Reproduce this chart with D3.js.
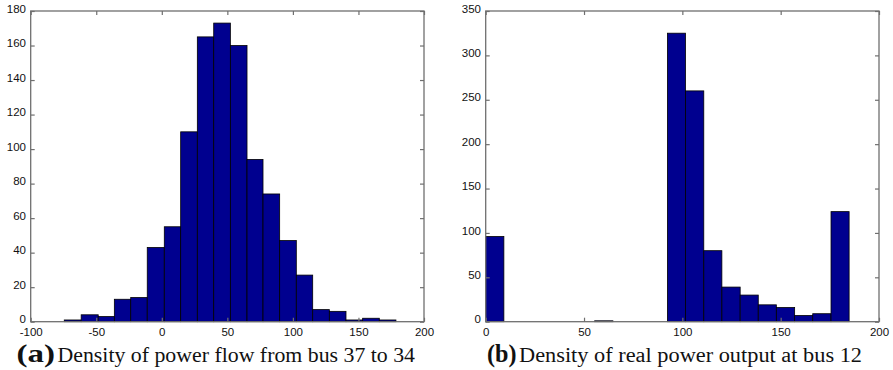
<!DOCTYPE html>
<html>
<head>
<meta charset="utf-8">
<script src="https://cdn.jsdelivr.net/npm/d3@7/dist/d3.min.js"></script>
<style>
  html, body { margin: 0; padding: 0; background: #fff; }
  svg { display: block; }
  .tick text { font-family: "Liberation Sans", Arial, sans-serif; font-size: 11.5px; fill: #111; }
</style>
</head>
<body>
<svg id="chart" width="893" height="370"></svg>
<script>
// (a) Power flow from bus 37 to 34: histogram bin edges and counts
const flowEdges = [-74.4, -61.5, -48.5, -36.2, -23.7, -11.1, 1.9, 14.4, 27.1, 39.6,
                   52.3, 65.0, 77.2, 89.9, 102.6, 115.1, 127.8, 140.5, 153.2, 165.9, 178.6];
const flowCounts = [1, 4, 3, 13, 14, 43, 55, 110, 165, 173,
                    160, 94, 74, 47, 27, 7, 6, 1, 2, 1];
const flowXTicks = [-100, -50, 0, 50, 100, 150, 200];
const flowYTicks = [0, 20, 40, 60, 80, 100, 120, 140, 160, 180];

// (b) Real power output at bus 12: histogram bin edges and counts
const outputEdges = [0, 9.24, 18.5, 27.7, 37.0, 46.2, 55.4, 64.7, 73.9, 83.2,
                     92.4, 101.6, 110.9, 120.1, 129.4, 138.6, 147.8, 157.1, 166.3, 175.6, 184.8];
const outputCounts = [96, 0, 0, 0, 0, 0, 1, 0, 0, 0,
                      325, 260, 80, 39, 30, 19, 16, 7, 9, 124];
const outputXTicks = [0, 50, 100, 150, 200];
const outputYTicks = [0, 50, 100, 150, 200, 250, 300, 350];

const captions = [
  { tag: "(a)", text: "Density of power flow from bus 37 to 34" },
  { tag: "(b)", text: "Density of real power output at bus 12" }
];

const svg = d3.select("#chart");
const AXIS_COLOR = "#6f6f6f";
const BAR_FILL = "#00008f";
// plain hyphen-minus for negative tick labels
const fmt = d => String(d);

function drawPanel(cfg) {
  const { left, right, top, bottom, edges, counts, xTicks, yTicks } = cfg;
  const x = d3.scaleLinear().domain([xTicks[0], xTicks[xTicks.length - 1]]).range([left, right]);
  const y = d3.scaleLinear().domain([yTicks[0], yTicks[yTicks.length - 1]]).range([bottom, top]);
  const g = svg.append("g");

  // bars (empty bins are not drawn)
  const bins = counts.map((c, i) => ({ x0: edges[i], x1: edges[i + 1], c }))
                     .filter(d => d.c > 0);
  g.append("g").selectAll("rect").data(bins).join("rect")
    .attr("x", d => x(d.x0))
    .attr("width", d => x(d.x1) - x(d.x0))
    .attr("y", d => y(d.c))
    .attr("height", d => y(0) - y(d.c))
    .attr("fill", BAR_FILL)
    .attr("stroke", "#000")
    .attr("stroke-width", 0.8);

  const tickLen = -4;
  const styleAxis = sel => {
    sel.select(".domain").remove();
    sel.selectAll(".tick line").attr("stroke", AXIS_COLOR).attr("stroke-width", 1.2);
  };

  g.append("g").attr("transform", `translate(0,${bottom})`)
    .call(d3.axisBottom(x).tickValues(xTicks).tickSize(tickLen).tickPadding(6).tickFormat(fmt))
    .call(styleAxis)
    .call(s => s.selectAll(".tick text").attr("fill", "#111"));
  g.append("g").attr("transform", `translate(0,${top})`)
    .call(d3.axisTop(x).tickValues(xTicks).tickSize(tickLen).tickFormat(""))
    .call(styleAxis);
  g.append("g").attr("transform", `translate(${left},0)`)
    .call(d3.axisLeft(y).tickValues(yTicks).tickSize(tickLen).tickPadding(4.7).tickFormat(fmt))
    .call(styleAxis)
    .call(s => s.selectAll(".tick text").attr("dy", "0.1em").attr("fill", "#111"));
  g.append("g").attr("transform", `translate(${right},0)`)
    .call(d3.axisRight(y).tickValues(yTicks).tickSize(tickLen).tickFormat(""))
    .call(styleAxis);

  // axes box
  g.append("rect")
    .attr("x", left).attr("y", top)
    .attr("width", right - left).attr("height", bottom - top)
    .attr("fill", "none").attr("stroke", AXIS_COLOR).attr("stroke-width", 1.3);
}

function drawCaption(cap, tagX, tagW, textX, textW, baseline) {
  svg.append("text")
    .attr("x", tagX).attr("y", baseline)
    .attr("font-family", "'Liberation Serif', 'DejaVu Serif', serif")
    .attr("font-weight", "bold").attr("font-size", 26)
    .attr("textLength", tagW).attr("lengthAdjust", "spacingAndGlyphs")
    .attr("fill", "#111")
    .text(cap.tag);
  svg.append("text")
    .attr("x", textX).attr("y", baseline)
    .attr("font-family", "'Liberation Serif', 'DejaVu Serif', serif")
    .attr("font-size", 20)
    .attr("textLength", textW).attr("lengthAdjust", "spacingAndGlyphs")
    .attr("fill", "#111")
    .text(cap.text);
}

drawPanel({ left: 30.7, right: 424, top: 11, bottom: 321.7,
            edges: flowEdges, counts: flowCounts, xTicks: flowXTicks, yTicks: flowYTicks });
drawPanel({ left: 485.7, right: 879, top: 11, bottom: 321.7,
            edges: outputEdges, counts: outputCounts, xTicks: outputXTicks, yTicks: outputYTicks });

drawCaption(captions[0], 16.5, 38.5, 57.5, 357.5, 362.3);
drawCaption(captions[1], 487, 29.5, 519, 343, 362.3);
</script>
</body>
</html>
